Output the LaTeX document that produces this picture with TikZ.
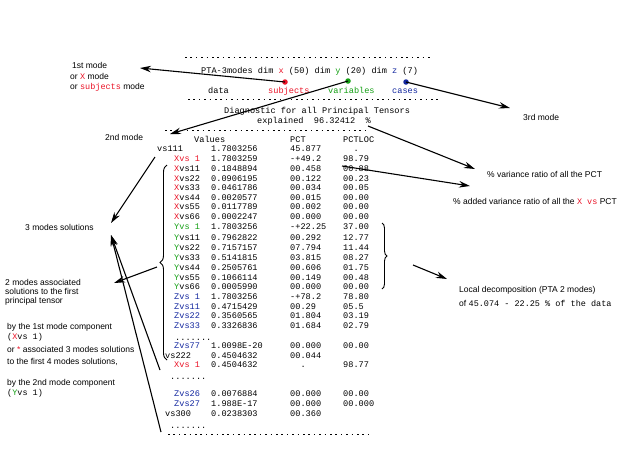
\documentclass[tikz,border=0pt]{standalone}
\usepackage{fontspec}
\setmainfont{Liberation Sans}
\setmonofont{Liberation Mono}
\usetikzlibrary{arrows.meta,decorations.pathreplacing}
\definecolor{xred}{RGB}{235,20,40}
\definecolor{ygreen}{RGB}{20,160,20}
\definecolor{zblue}{RGB}{20,40,160}
\tikzset{
 mono/.style={font=\fontsize{8.6}{10}\ttfamily, inner sep=0pt, anchor=base west},
 lab/.style={font=\fontsize{8.5}{10}\selectfont, inner sep=0pt, anchor=base west},
 arr/.style={-{Stealth[length=11pt,width=6.5pt]}, line width=1.1pt},
 dotrule/.style={line width=0.8pt, dash pattern=on 1.6pt off 3.8pt},
 mdot/.style={circle, inner sep=0pt, minimum size=5.5pt},
 brc/.style={decorate, line width=0.9pt},
}
\newcommand\tabrow[7]{%
 \node[mono] (#1l) at (#3,#2+3) {#4};
 \node[mono] (#1v) at (211,#2+3) {#5};
 \node[mono] (#1p) at (290,#2+3) {#6};
 \node[mono] (#1c) at (343,#2+3) {#7};
}
\begin{document}
\begin{tikzpicture}[x=1pt,y=-1pt]
\fill[white] (0,0) rectangle (635,448);
\useasboundingbox (0,0) rectangle (635,448);

% header block
\draw[dotrule] (185,57) -- (432,57);
\node[mono] (title) at (201,73) {PTA-3modes dim \textcolor{xred}{x} (50) dim \textcolor{ygreen}{y} (20) dim \textcolor{zblue}{z} (7)};
\node[mono] (data) at (208,93) {data};
\node[mono] (subj) at (268,93) {\textcolor{xred}{subjects}};
\node[mono] (vari) at (328,93) {\textcolor{ygreen}{variables}};
\node[mono] (cases) at (392,93) {\textcolor{zblue}{cases}};
\node[mdot, fill=xred] (dx) at (285,82) {};
\node[mdot, fill=ygreen] (dy) at (348,81) {};
\node[mdot, fill=zblue] (dz) at (406,82) {};
\draw[dotrule] (188,99) -- (440,99);
\node[mono] (diag) at (224,113) {Diagnostic for all Principal Tensors};
\node[mono] (expl) at (257,123) {explained \ 96.32412 \ \%};
\draw[dotrule] (165,130) -- (370,130);

% table header
\node[mono] (hval) at (194,142) {Values};
\node[mono] (hpct) at (290,142) {PCT};
\node[mono] (hloc) at (343,142) {PCTLOC};

\tabrow{ra}{148}{157}{vs111}{1.7803256}{45.877}{\ \ .}
\tabrow{rb}{158}{174}{\textcolor{xred}{Xvs 1}}{1.7803259}{-+49.2}{98.79}
\tabrow{rc}{168}{174}{\textcolor{xred}{X}vs11}{0.1848894}{00.458}{00.88}
\tabrow{rd}{178}{174}{\textcolor{xred}{X}vs22}{0.0906195}{00.122}{00.23}
\tabrow{re}{187}{174}{\textcolor{xred}{X}vs33}{0.0461786}{00.034}{00.05}
\tabrow{rf}{197}{174}{\textcolor{xred}{X}vs44}{0.0020577}{00.015}{00.00}
\tabrow{rg}{206}{174}{\textcolor{xred}{X}vs55}{0.0117789}{00.002}{00.00}
\tabrow{rh}{216}{174}{\textcolor{xred}{X}vs66}{0.0002247}{00.000}{00.00}
\tabrow{ri}{226}{174}{\textcolor{ygreen}{Yvs 1}}{1.7803256}{-+22.25}{37.00}
\tabrow{rj}{237}{174}{\textcolor{ygreen}{Y}vs11}{0.7962822}{00.292}{12.77}
\tabrow{rk}{247}{174}{\textcolor{ygreen}{Y}vs22}{0.7157157}{07.794}{11.44}
\tabrow{rl}{257}{174}{\textcolor{ygreen}{Y}vs33}{0.5141815}{03.815}{08.27}
\tabrow{rm}{267}{174}{\textcolor{ygreen}{Y}vs44}{0.2505761}{00.606}{01.75}
\tabrow{rn}{277}{174}{\textcolor{ygreen}{Y}vs55}{0.1066114}{00.149}{00.48}
\tabrow{ro}{286}{174}{\textcolor{ygreen}{Y}vs66}{0.0005990}{00.000}{00.00}
\tabrow{rp}{296}{174}{\textcolor{zblue}{Zvs 1}}{1.7803256}{-+78.2}{78.80}
\tabrow{rq}{306}{174}{\textcolor{zblue}{Zvs11}}{0.4715429}{00.29}{05.5}
\tabrow{rr}{315}{174}{\textcolor{zblue}{Zvs22}}{0.3560565}{01.804}{03.19}
\tabrow{rs}{325}{174}{\textcolor{zblue}{Zvs33}}{0.3326836}{01.684}{02.79}
\node[mono] (dots1) at (175,340) {.......};
\tabrow{rt}{345}{174}{\textcolor{zblue}{Zvs77}}{1.0098E-20}{00.000}{00.00}
\tabrow{ru}{355}{165}{vs222}{0.4504632}{00.044}{}
\tabrow{rv}{364}{174}{\textcolor{xred}{Xvs 1}}{0.4504632}{\ \ .}{98.77}
\node[mono] (dots2) at (170,379) {.......};
\tabrow{rw}{393}{174}{\textcolor{zblue}{Zvs26}}{0.0076884}{00.000}{00.00}
\tabrow{rx}{403}{174}{\textcolor{zblue}{Zvs27}}{1.988E-17}{00.000}{00.000}
\tabrow{ry}{413}{165}{vs300}{0.0238303}{00.360}{}
\node[mono] (dots3) at (170,428) {.......};
\draw[dotrule] (168,434) -- (372,434);

% braces
\draw[brc, decoration={brace, amplitude=7pt}] (167,360) -- (167,165);
\draw[brc, decoration={brace, amplitude=5pt}] (382,223) -- (382,289);

% labels
\node[lab] (m1a) at (72,68) {1st mode};
\node[lab] (m1b) at (70,79) {or {\ttfamily\textcolor{xred}{X}} mode};
\node[lab] (m1c) at (70,89) {or {\ttfamily\textcolor{xred}{subjects}} mode};
\node[lab] (m2) at (105,140) {2nd mode};
\node[lab] (m3) at (523,120) {3rd mode};
\node[lab] (pctl) at (487,177) {\% variance ratio of all the PCT};
\node[lab] (locl) at (453,204) {\% added variance ratio of all the {\ttfamily\textcolor{xred}{X vs}} PCT};
\node[lab] (lda) at (459,292) {Local decomposition (PTA 2 modes)};
\node[lab] (ldb) at (459,306) {of {\ttfamily 45.074 - 22.25 \% of the data}};
\node[lab] (sol3) at (25,230) {3 modes solutions};
\node[lab] (as1) at (5,285) {2 modes associated};
\node[lab] (as2) at (5,294) {solutions to the first};
\node[lab] (as3) at (5,303) {principal tensor};
\node[lab] (b1) at (7,329) {by the 1st mode component};
\node[lab] (b2) at (7,339) {{\ttfamily(\textcolor{xred}{X}vs 1)}};
\node[lab] (b3) at (7,352) {or \textcolor{xred}{*} associated 3 modes solutions};
\node[lab] (b4) at (7,364) {to the first 4 modes solutions,};
\node[lab] (b5) at (7,385) {by the 2nd mode component};
\node[lab] (b6) at (7,395) {{\ttfamily(\textcolor{ygreen}{Y}vs 1)}};

% arrow end points
\coordinate (t1) at (140,68);
\coordinate (t2) at (170,134);
\coordinate (t3) at (510,108);
\coordinate (s4) at (368,126);
\coordinate (t4) at (475,169);
\coordinate (s5) at (342,166);
\coordinate (t5) at (470,186);
\coordinate (s6) at (413,265);
\coordinate (t6) at (447,279);
\coordinate (s7) at (155,157);
\coordinate (t7) at (111,223);
\coordinate (s8) at (157,267);
\coordinate (t8) at (114,283);
\coordinate (s9) at (160,370);
\coordinate (s10) at (161,432);
\coordinate (t9) at (111,235);

\draw[arr] (dx.center) -- (t1);
\draw[arr] (dy.center) -- (t2);
\draw[arr] (dz.center) -- (t3);
\draw[arr] (s4) -- (t4);
\draw[arr] (s5) -- (t5);
\draw[arr] (s6) -- (t6);
\draw[arr] (s7) -- (t7);
\draw[arr] (s8) -- (t8);
\draw[arr] (s9) -- (t9);
\draw[arr] (s10) -- (t9);
\end{tikzpicture}
\end{document}
